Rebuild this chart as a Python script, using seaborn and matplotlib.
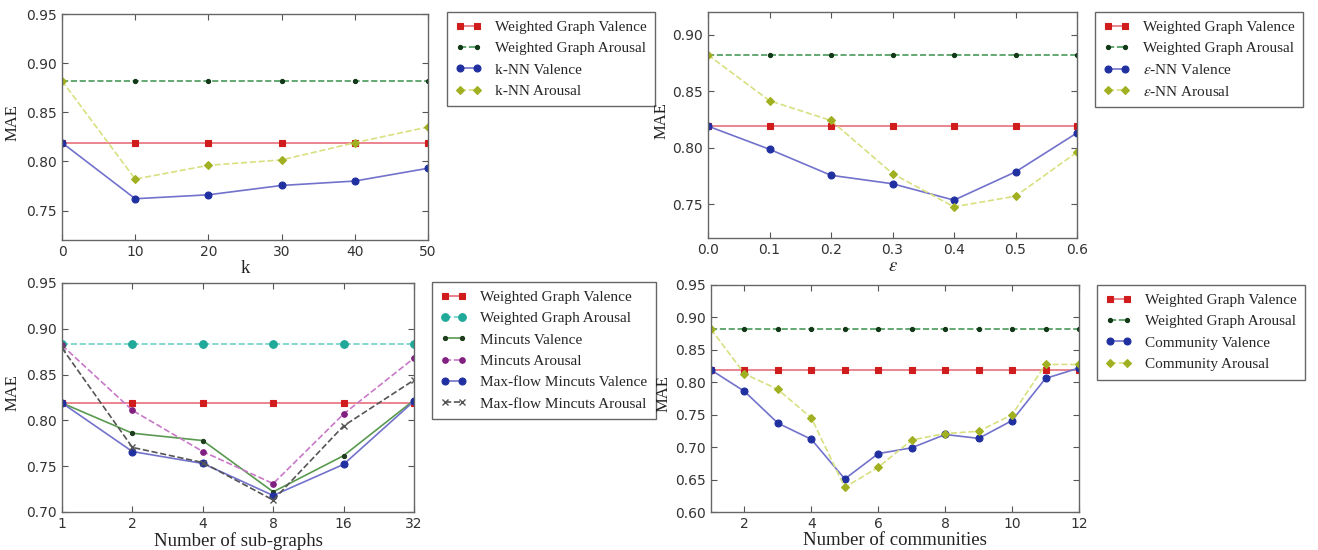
import matplotlib
matplotlib.use("Agg")
import matplotlib.pyplot as plt
import seaborn as sns

# panel 1: k-NN
k_vals = [0, 10, 20, 30, 40, 50]
k_wg_val = [0.819] * 6
k_wg_aro = [0.882] * 6
k_nn_val = [0.819, 0.762, 0.766, 0.7755, 0.780, 0.793]
k_nn_aro = [0.882, 0.782, 0.796, 0.8015, 0.819, 0.835]

# panel 2: epsilon-NN
eps_vals = [0.0, 0.1, 0.2, 0.3, 0.4, 0.5, 0.6]
eps_wg_val = [0.819] * 7
eps_wg_aro = [0.882] * 7
eps_nn_val = [0.819, 0.7985, 0.7755, 0.768, 0.7535, 0.7785, 0.813]
eps_nn_aro = [0.882, 0.8415, 0.824, 0.777, 0.7476, 0.757, 0.796]

# panel 3: sub-graphs
sg_vals = [1, 2, 4, 8, 16, 32]
sg_wg_val = [0.819] * 6
sg_wg_aro = [0.883] * 6
sg_mc_val = [0.819, 0.786, 0.778, 0.722, 0.7615, 0.822]
sg_mc_aro = [0.882, 0.811, 0.766, 0.731, 0.807, 0.868]
sg_mf_val = [0.819, 0.766, 0.753, 0.718, 0.752, 0.821]
sg_mf_aro = [0.879, 0.7705, 0.754, 0.713, 0.794, 0.844]

# panel 4: communities
cm_vals = [1, 2, 3, 4, 5, 6, 7, 8, 9, 10, 11, 12]
cm_wg_val = [0.819] * 12
cm_wg_aro = [0.882] * 12
cm_val = [0.819, 0.786, 0.737, 0.712, 0.651, 0.690, 0.699, 0.7195, 0.7135, 0.741, 0.806, 0.822]
cm_aro = [0.882, 0.813, 0.789, 0.745, 0.638, 0.669, 0.711, 0.721, 0.7245, 0.750, 0.8275, 0.8275]

sns.set_style("ticks")
plt.rcParams["font.family"] = ["DejaVu Sans"]
plt.rcParams["mathtext.fontset"] = "stix"
SERIF = "Liberation Serif"

W, H = 1318, 550
fig = plt.figure(figsize=(W / 100, H / 100), dpi=100)


def make_ax(left, right, top, bottom):
    return fig.add_axes([left / W, 1 - bottom / H, (right - left) / W, (bottom - top) / H])


def draw(ax, x, y, label, color, mcolor, marker, ls, ms=5):
    sns.lineplot(x=x, y=y, ax=ax, label=label, color=color, linestyle=ls,
                 linewidth=1.2, marker=marker, markersize=ms,
                 markerfacecolor=mcolor, markeredgecolor=mcolor,
                 markeredgewidth=0.8 if marker != "x" else 1.0)


def style(ax, xlabel, legend_xy, ylab_x):
    ax.tick_params(direction="in", top=True, right=True, length=4,
                   labelsize=10, labelcolor="#333333", color="#555555")
    for s in ax.spines.values():
        s.set_color("#666666")
        s.set_linewidth(1.0)
    ax.set_ylabel("MAE", fontsize=12, family=SERIF, color="#222222")
    # ylabel anchor is its right edge (rotated text baseline)
    pos = ax.get_position()
    ax.yaxis.set_label_coords((ylab_x / W - pos.x0) / pos.width, 0.52)
    ax.set_xlabel(xlabel, fontsize=13.5, family=SERIF, color="#222222", labelpad=1)
    h, l = ax.get_legend_handles_labels()
    ax.legend(h, l, loc="upper left",
              bbox_to_anchor=(legend_xy[0] / W, 1 - legend_xy[1] / H),
              bbox_transform=fig.transFigure, borderaxespad=0, numpoints=2,
              fancybox=False, edgecolor="#666666", framealpha=1,
              prop={"family": SERIF, "size": 11}, handlelength=1.7,
              handletextpad=0.9, labelspacing=0.5, borderpad=0.55)


RED_L, RED_M = "#e8707a", "#d01c1c"
GRN_L, GRN_M = "#4a9a5a", "#123a18"
BLU_L, BLU_M = "#7272cc", "#2030a0"
YEL_L, YEL_M = "#d8e080", "#a0b020"

# panel 1
ax1 = make_ax(62, 428, 14, 240)
draw(ax1, k_vals, k_wg_val, "Weighted Graph Valence", RED_L, RED_M, "s", "-")
draw(ax1, k_vals, k_wg_aro, "Weighted Graph Arousal", GRN_L, GRN_M, ".", "--", 6)
draw(ax1, k_vals, k_nn_val, "k-NN Valence", BLU_L, BLU_M, "o", "-")
draw(ax1, k_vals, k_nn_aro, "k-NN Arousal", YEL_L, YEL_M, "D", "--", 4.5)
ax1.set_xlim(0, 50)
ax1.set_ylim(0.72, 0.95)
ax1.set_yticks([0.75, 0.80, 0.85, 0.90, 0.95])
ax1.set_xticks(k_vals)
style(ax1, "k", (447, 12), 21)

# panel 2
ax2 = make_ax(708, 1077, 12, 238)
draw(ax2, eps_vals, eps_wg_val, "Weighted Graph Valence", RED_L, RED_M, "s", "-")
draw(ax2, eps_vals, eps_wg_aro, "Weighted Graph Arousal", GRN_L, GRN_M, ".", "--", 6)
draw(ax2, eps_vals, eps_nn_val, r"$\varepsilon$-NN Valence", BLU_L, BLU_M, "o", "-")
draw(ax2, eps_vals, eps_nn_aro, r"$\varepsilon$-NN Arousal", YEL_L, YEL_M, "D", "--", 4.5)
ax2.set_xlim(0, 0.6)
ax2.set_ylim(0.72, 0.92)
ax2.set_yticks([0.75, 0.80, 0.85, 0.90])
ax2.set_xticks(eps_vals)
ax2.set_xticklabels([f"{v:.1f}" for v in eps_vals])
style(ax2, r"$\varepsilon$", (1095, 12), 670)

# panel 3
ax3 = make_ax(62, 414, 283, 512)
draw(ax3, sg_vals, sg_wg_val, "Weighted Graph Valence", RED_L, RED_M, "s", "-")
draw(ax3, sg_vals, sg_wg_aro, "Weighted Graph Arousal", "#70d0c8", "#20a898", "o", "--", 5.5)
draw(ax3, sg_vals, sg_mc_val, "Mincuts Valence", "#5a9a50", "#1e3e1e", ".", "-", 6)
draw(ax3, sg_vals, sg_mc_aro, "Mincuts Arousal", "#c878c8", "#802080", ".", "--", 8)
draw(ax3, sg_vals, sg_mf_val, "Max-flow Mincuts Valence", BLU_L, BLU_M, "o", "-")
draw(ax3, sg_vals, sg_mf_aro, "Max-flow Mincuts Arousal", "#555555", "#555555", "x", "--", 4)
ax3.set_xscale("log", base=2)
ax3.set_xlim(1, 32)
ax3.set_ylim(0.70, 0.95)
ax3.set_xticks(sg_vals)
ax3.set_xticklabels([str(v) for v in sg_vals])
ax3.minorticks_off()
style(ax3, "Number of sub-graphs", (432, 282), 21)

# panel 4
ax4 = make_ax(711, 1079, 285, 512)
draw(ax4, cm_vals, cm_wg_val, "Weighted Graph Valence", RED_L, RED_M, "s", "-")
draw(ax4, cm_vals, cm_wg_aro, "Weighted Graph Arousal", GRN_L, GRN_M, ".", "--", 6)
draw(ax4, cm_vals, cm_val, "Community Valence", BLU_L, BLU_M, "o", "-")
draw(ax4, cm_vals, cm_aro, "Community Arousal", YEL_L, YEL_M, "D", "--", 4.5)
ax4.set_xlim(1, 12)
ax4.set_ylim(0.60, 0.95)
ax4.set_xticks([2, 4, 6, 8, 10, 12])
style(ax4, "Number of communities", (1097, 285), 672)

fig.savefig("out.png", dpi=100)
